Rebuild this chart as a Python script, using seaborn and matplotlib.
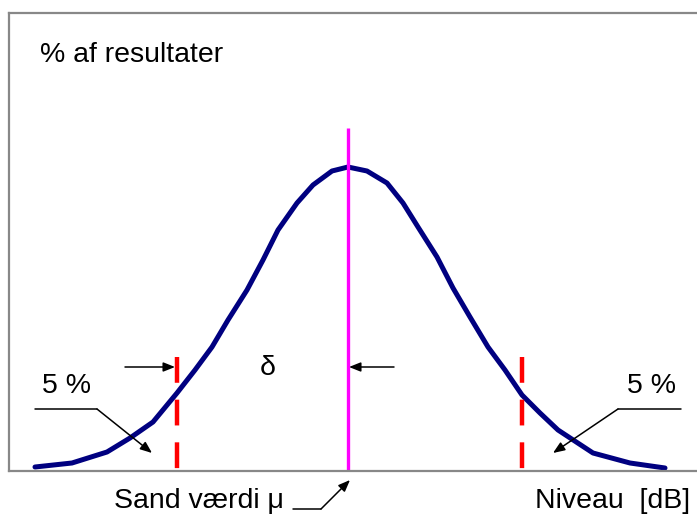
import matplotlib
matplotlib.use("Agg")
import matplotlib.pyplot as plt
import pandas as pd
import seaborn as sns

# Bell curve (x = level, y = share of results, arbitrary units)
curve_x = [35, 72, 107, 130, 153, 177, 195, 212, 228, 247, 263, 278, 297, 313, 332, 348,
           367, 387, 403, 418, 437, 453, 470, 488, 505, 522, 540, 558, 593, 630, 665]
curve_y = [4, 8, 19, 33, 49, 78, 101, 124, 151, 181, 211, 241, 268, 286, 300, 304,
           300, 288, 268, 244, 214, 183, 154, 124, 101, 76, 58, 41, 18, 8, 3]

true_value = 348          # Sand værdi μ
true_height = 343
limits = [177, 522]       # 5 % grænser
limit_height = 114

df = pd.DataFrame({"niveau": curve_x, "andel": curve_y})

sns.set_style("white")
plt.rcParams["font.family"] = ["Liberation Sans", "DejaVu Sans"]
plt.rcParams["text.color"] = "black"

fig = plt.figure(figsize=(6.97, 5.18), dpi=100)
ax = fig.add_axes([9 / 697, 47 / 518, 696 / 697, 458 / 518])

sns.lineplot(data=df, x="niveau", y="andel", ax=ax, color="#000080", linewidth=3.6, sort=False)

ax.plot([true_value, true_value], [true_height, 0], color="#ff00ff", linewidth=2.4, solid_capstyle="butt")
for lx in limits:
    ax.plot([lx, lx], [limit_height, 0], color="#ff0000", linewidth=3.2,
            dashes=(5.8, 3.8), dash_capstyle="butt")

ax.set_xlim(9, 705)
ax.set_ylim(0, 458)
ax.set_xticks([])
ax.set_yticks([])
ax.set_xlabel("")
ax.set_ylabel("")
for side in ["left", "top", "right", "bottom"]:
    ax.spines[side].set_color("#888888")
    ax.spines[side].set_linewidth(1.6)

fs = 20.5
arrow = dict(arrowstyle="-|>,head_length=0.5,head_width=0.2", color="black", lw=1.1,
             mutation_scale=14, shrinkA=0, shrinkB=0)

ax.text(40, 471 - 62, "% af resultater", fontsize=fs, ha="left", va="baseline", color="black")
ax.text(268, 471 - 375, "δ", fontsize=fs, ha="center", va="baseline", color="black")
ax.text(42, 471 - 393, "5 %", fontsize=fs, ha="left", va="baseline", color="black")
ax.text(676, 471 - 393, "5 %", fontsize=fs, ha="right", va="baseline", color="black")
ax.text(114, 471 - 508, "Sand værdi μ", fontsize=fs, ha="left", va="baseline",
        color="black", clip_on=False)
ax.text(690, 471 - 508, "Niveau  [dB]", fontsize=fs, ha="right", va="baseline",
        color="black", clip_on=False)

# delta arrows
ax.annotate("", xy=(limits[0] - 2, 471 - 367), xytext=(125, 471 - 367), arrowprops=arrow)
ax.annotate("", xy=(true_value + 1, 471 - 367), xytext=(394, 471 - 367), arrowprops=arrow)

# 5 % leaders
ax.plot([35, 97], [471 - 409, 471 - 409], color="black", lw=1.1)
ax.annotate("", xy=(152, 471 - 453), xytext=(97, 471 - 409), arrowprops=arrow)
ax.plot([681, 618], [471 - 409, 471 - 409], color="black", lw=1.1)
ax.annotate("", xy=(553, 471 - 453), xytext=(618, 471 - 409), arrowprops=arrow)

# true value leader
ax.plot([293, 321], [471 - 509, 471 - 509], color="black", lw=1.1, clip_on=False)
ax.annotate("", xy=(350, 471 - 480), xytext=(321, 471 - 509), arrowprops=arrow,
            annotation_clip=False)

fig.savefig("out.png", dpi=100)
